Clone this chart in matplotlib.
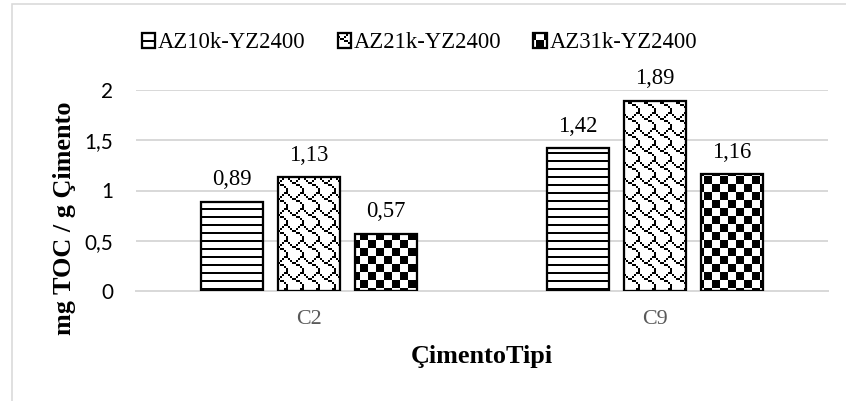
import warnings
import numpy as np
import matplotlib
matplotlib.use("Agg")
import matplotlib.pyplot as plt
import matplotlib.hatch as mhatch
from matplotlib.patches import Rectangle
from matplotlib.ticker import FuncFormatter

warnings.filterwarnings("ignore")

categories = ["C2", "C9"]
series = ["AZ10k-YZ2400", "AZ21k-YZ2400", "AZ31k-YZ2400"]
az10k = [0.89, 1.42]
az21k = [1.13, 1.89]
az31k = [0.57, 1.16]
values = [az10k, az21k, az31k]
yticks = [0, 0.5, 1, 1.5, 2]


# Excel-style pixel fill patterns, registered as extra hatch characters
# (bitmap rows, cells per tile)
BITMAPS = {
    "h": (["#", ".", ".", "."], 12),
    "c": (["#.", ".#"], 6),
    "s": (["......##",
           "#....#..",
           ".#..#...",
           "..##....",
           "....##..",
           "......#.",
           ".......#",
           ".......#"], 6),
}


class PixelHatch(mhatch.HatchPatternBase):
    def __init__(self, hatch, density):
        self.squares = []
        for ch, (rows, reps) in BITMAPS.items():
            if ch not in hatch:
                continue
            ny, nx = len(rows), len(rows[0])
            if ch == "h":
                # full-width stripes
                step = 1 / (ny * reps)
                for i in range(reps):
                    y0 = 1 - (i * ny + 1) * step
                    self.squares.append((0.0, y0, 1.0, step))
                continue
            w = 1 / (nx * reps)
            hgt = 1 / (ny * reps)
            for i in range(reps):
                for j in range(reps):
                    for r, row in enumerate(rows):
                        for c, b in enumerate(row):
                            if b == "#":
                                x0 = (j * nx + c) * w
                                y0 = 1 - (i * ny + r + 1) * hgt
                                self.squares.append((x0, y0, w, hgt))
        self.num_vertices = 5 * len(self.squares)

    def set_vertices_and_codes(self, vertices, codes):
        for k, (x0, y0, w, h) in enumerate(self.squares):
            vertices[5 * k:5 * k + 5] = [(x0, y0), (x0 + w, y0), (x0 + w, y0 + h),
                                         (x0, y0 + h), (x0, y0)]
            codes[5 * k] = mhatch.Path.MOVETO
            codes[5 * k + 1:5 * k + 4] = mhatch.Path.LINETO
            codes[5 * k + 4] = mhatch.Path.CLOSEPOLY


mhatch._hatch_types.append(PixelHatch)

plt.rcParams["hatch.linewidth"] = 0.0
plt.rcParams["font.family"] = ["Liberation Serif", "DejaVu Serif"]

hatches = ["h", "s", "c"]

DPI = 96
fig = plt.figure(figsize=(846 / DPI, 401 / DPI), dpi=DPI)
ax = fig.add_axes([136 / 846, 110 / 401, 692 / 846, 201 / 401])

x = np.arange(len(categories))
width = 0.18
step = 0.2225
for k, (name, vals, h) in enumerate(zip(series, values, hatches)):
    pos = x + (k - 1) * step
    ax.bar(pos, vals, width=width, color="white", edgecolor="black",
           hatch=h, linewidth=1.7, label=name, zorder=3)
    for xb, v in zip(pos, vals):
        ax.annotate(f"{v:.2f}".replace(".", ","), (xb, v), xytext=(0, 12.5),
                    textcoords="offset points", ha="center", va="baseline",
                    fontsize=17)

ax.set_xlim(-0.5, 1.5)
ax.set_ylim(0, 2)
ax.set_yticks(yticks)
ax.yaxis.set_major_formatter(FuncFormatter(lambda v, p: f"{v:g}".replace(".", ",")))
ax.set_xticks(x)
ax.set_xticklabels(categories, color="#595959", fontsize=16.5)
for lab in ax.get_yticklabels():
    lab.set_family("Lato")
    lab.set_fontsize(15.5)
ax.tick_params(axis="y", length=0, pad=17)
ax.tick_params(axis="x", length=0, pad=14)
ax.grid(axis="y", color="#d9d9d9", linewidth=1.5, zorder=0)
for s in ["top", "right", "left"]:
    ax.spines[s].set_visible(False)
ax.spines["bottom"].set_color("#d9d9d9")
ax.spines["bottom"].set_linewidth(1.5)

ax.set_xlabel("ÇimentoTipi", fontsize=19.7, fontweight="bold", labelpad=12)
ax.set_ylabel("mg TOC / g Çimento", fontsize=19.7, fontweight="bold", va="center")
ax.yaxis.set_label_coords(-0.104, 0.361)

fig.legend(loc="center", bbox_to_anchor=(419.5 / 846, 1 - 43 / 401), ncol=3,
           frameon=False, fontsize=17, handlelength=0.6, handleheight=0.6,
           handletextpad=0.12, columnspacing=1.4, borderaxespad=0)

fig.add_artist(Rectangle((11.5 / 846, -0.05), 1.0, (401 - 3.5) / 401 + 0.05,
                         transform=fig.transFigure, fill=False,
                         edgecolor="#d9d9d9", linewidth=1.2))

fig.savefig("out.png", dpi=DPI)
